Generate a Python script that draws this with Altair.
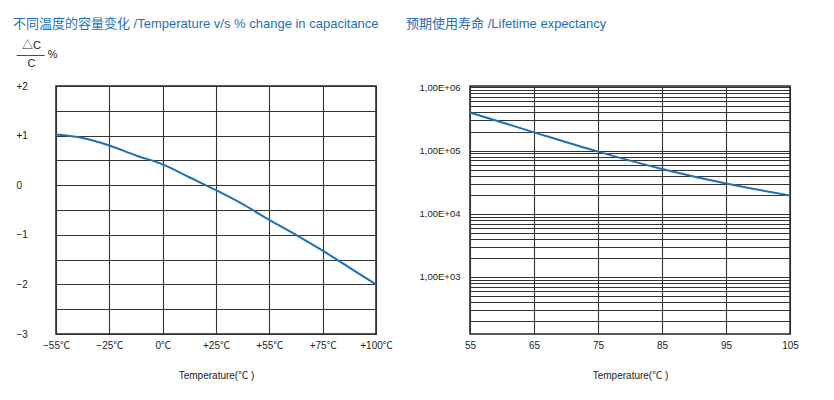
import altair as alt
import pandas as pd

# ---------------- data ----------------
# Left chart: capacitance change vs temperature (evenly spaced temperature ticks)
TEMP_LABELS = ["−55℃", "−25℃", "0℃", "+25℃", "+55℃", "+75℃", "+100℃"]
CURVE_POS = [0, 0.5, 1, 1.5, 2, 2.5, 3, 3.5, 4, 4.5, 5, 5.5, 6]  # position along the tick sequence
CAP_CHANGE = [1.02, 0.95, 0.80, 0.60, 0.42, 0.16, -0.10, -0.38, -0.70, -1.00, -1.32, -1.66, -2.00]
Y_GRID = [-3, -2.5, -2, -1.5, -1, -0.5, 0, 0.5, 1, 1.5, 2]

# Right chart: lifetime expectancy vs temperature
LIFE_TEMPS = [55, 65, 75, 85, 95, 105]
LIFETIME = [4.0e5, 1.94e5, 9.6e4, 5.1e4, 3.0e4, 1.95e4]
LIFE_X_TICKS = [55, 65, 75, 85, 95, 105]
LIFE_DECADES = [1e3, 1e4, 1e5, 1e6]
LIFE_DECADE_LABELS = ["1,00E+03", "1,00E+04", "1,00E+05", "1,00E+06"]
LIFE_GRID = [k * 10 ** e for e in range(2, 6) for k in range(1, 10)] + [1e6]

TITLE_LEFT = "不同温度的容量变化 /Temperature v/s % change in capacitance"
TITLE_RIGHT = "预期使用寿命 /Lifetime expectancy"
X_TITLE = "Temperature(℃ )"
FRACTION = ["\u200b\u2002△C", "——–\u00a0%", "\u200b\u2002\u2002C"]
SPACER = ["\u00a0", "\u00a0", "\u00a0"]

BLUE = "#1f6fb4"
FONT = "Liberation Sans, Noto Sans CJK SC, sans-serif"

left_df = pd.DataFrame({"pos": CURVE_POS, "dc": CAP_CHANGE})
right_df = pd.DataFrame({"temp": LIFE_TEMPS, "life": LIFETIME})

temp_label_expr = "[" + ",".join("'" + t + "'" for t in TEMP_LABELS) + "][datum.value]"
y_label_expr = ("datum.value % 1 == 0 ? (datum.value > 0 ? '+' + datum.value : "
                "(datum.value < 0 ? '−' + abs(datum.value) : '0')) : ''")
dec_vals = "[" + ",".join(str(int(v)) for v in LIFE_DECADES) + "]"
dec_labs = "[" + ",".join("'" + s + "'" for s in LIFE_DECADE_LABELS) + "]"
life_label_expr = (f"indexof({dec_vals}, datum.value) >= 0 ? "
                   f"{dec_labs}[indexof({dec_vals}, datum.value)] : ''")

frac_axis = dict(
    titleAngle=0, titleY=-38, titleAlign="left",
    titleBaseline="alphabetic", titleLineHeight=9, titleFontSize=11,
    titleFontWeight="normal",
)

left = alt.Chart(left_df).mark_line(
    interpolate="monotone", color=BLUE, strokeWidth=2
).encode(
    x=alt.X("pos:Q", scale=alt.Scale(domain=[0, 6], nice=False, zero=False),
            axis=alt.Axis(values=list(range(len(TEMP_LABELS))), labelExpr=temp_label_expr,
                          title=X_TITLE, labelFlush=False, labelPadding=6, titlePadding=20,
                          labelOverlap=False)),
    y=alt.Y("dc:Q", scale=alt.Scale(domain=[-3, 2], nice=False, zero=False),
            axis=alt.Axis(values=Y_GRID, labelExpr=y_label_expr, labelAlign="left",
                          labelPadding=40, labelFlush=False, labelOverlap=False,
                          title=FRACTION, titleX=-40, **frac_axis)),
).properties(
    width=320, height=248,
    title=alt.Title(TITLE_LEFT, anchor="start", dx=-3, color=BLUE, fontSize=13,
                    fontWeight="normal", offset=8),
)

right = alt.Chart(right_df).mark_line(
    interpolate="monotone", color=BLUE, strokeWidth=2
).encode(
    x=alt.X("temp:Q", scale=alt.Scale(domain=[55, 105], nice=False, zero=False),
            axis=alt.Axis(values=LIFE_X_TICKS, title=X_TITLE, labelFlush=False,
                          labelPadding=6, titlePadding=20)),
    y=alt.Y("life:Q", scale=alt.Scale(type="log", domain=[125, 1.05e6], nice=False),
            axis=alt.Axis(values=LIFE_GRID, labelExpr=life_label_expr, labelPadding=10,
                          labelFlush=False, labelOverlap=False, labelFontSize=9.5,
                          title=SPACER, titleX=-20, **frac_axis)),
).properties(
    width=320, height=248,
    title=alt.Title(TITLE_RIGHT, anchor="start", dx=-13, color=BLUE, fontSize=13,
                    fontWeight="normal", offset=8),
)

chart = alt.hconcat(left, right, spacing=11).properties(
    padding={"left": 4, "top": 9, "right": 5, "bottom": 5}
).configure_view(
    stroke="#222", strokeWidth=1.5
).configure_axis(
    gridColor="#333333", gridWidth=1.1, gridOpacity=1, domain=False, ticks=False,
    labelFont=FONT, titleFont=FONT, labelColor="#222", titleColor="#222",
    labelFontSize=10, titleFontSize=10, titleFontWeight="normal",
).configure_title(font=FONT)

chart.save("out.html", embed_options={"renderer": "svg", "actions": False})
